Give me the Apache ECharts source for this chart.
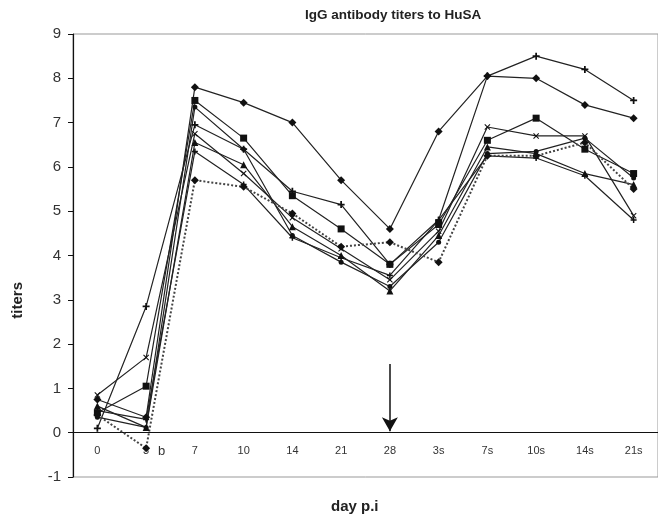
<!DOCTYPE html>
<html>
<head>
<meta charset="utf-8">
<script src="https://cdn.jsdelivr.net/npm/echarts@6/dist/echarts.min.js"></script>
<style>
  html, body { margin: 0; padding: 0; background: #fff; }
  #chart { width: 658px; height: 526px; }
</style>
</head>
<body>
<div id="chart"></div>
<script>
// days post immunisation (s = after second shot)
var days = ['0', '3', '7', '10', '14', '21', '28', '3s', '7s', '10s', '14s', '21s']
var yTicks = [-1, 0, 1, 2, 3, 4, 5, 6, 7, 8, 9]

var serA = [0.75, 0.35, 7.8, 7.45, 7.0, 5.7, 4.6, 6.8, 8.05, 8.0, 7.4, 7.1]
var serB = [0.1, 2.85, 6.95, 6.4, 5.45, 5.15, 3.8, 4.8, 8.05, 8.5, 8.2, 7.5]
var serC = [0.45, 1.05, 7.5, 6.65, 5.35, 4.6, 3.8, 4.7, 6.6, 7.1, 6.4, 5.85]
var serD = [0.85, 1.7, 6.75, 5.85, 4.85, 4.15, 3.45, 4.55, 6.9, 6.7, 6.7, 4.9]
var serE = [0.6, 0.12, 6.55, 6.05, 4.65, 4.0, 3.2, 4.45, 6.45, 6.3, 5.85, 5.6]
var serF = [0.35, 0.12, 7.35, 6.4, 4.45, 3.85, 3.3, 4.3, 6.3, 6.35, 6.65, 5.75]
var serG = [0.5, 0.3, 6.35, 5.6, 4.4, 3.95, 3.55, 4.8, 6.25, 6.2, 5.8, 4.8]
var serH = [0.4, -0.35, 5.7, 5.55, 4.95, 4.2, 4.3, 3.85, 6.25, 6.25, 6.55, 5.5]

var plusPath = 'path://M3,0H5V3H8V5H5V8H3V5H0V3H3Z'
var crossPath = 'path://M1,0L4,3L7,0L8,1L5,4L8,7L7,8L4,5L1,8L0,7L3,4L0,1Z'

function line (name, data, symbol, size, dotted) {
  return {
    name: name,
    type: 'line',
    data: data,
    symbol: symbol,
    symbolSize: size,
    showSymbol: true,
    animation: false,
    lineStyle: {
      color: dotted ? '#444' : '#222',
      width: dotted ? 2 : 1.2,
      type: dotted ? 'dotted' : 'solid'
    },
    itemStyle: { color: '#111' }
  }
}

var chart = echarts.init(document.getElementById('chart'))
chart.setOption({
  backgroundColor: '#fff',
  animation: false,
  title: {
    text: 'IgG antibody titers to HuSA',
    left: 300,
    top: 3,
    textStyle: { fontFamily: 'Liberation Sans', fontSize: 13.5, fontWeight: 'bold', color: '#222' }
  },
  grid: {
    left: 73,
    right: -9,
    top: 34,
    bottom: 49,
    show: true,
    borderColor: '#999',
    borderWidth: 1
  },
  xAxis: {
    type: 'category',
    data: days,
    boundaryGap: true,
    // x axis sits on the zero line, one unit above the bottom (-1)
    offset: -44.3,
    axisLine: { onZero: false, lineStyle: { color: '#111', width: 1.2 } },
    axisTick: { inside: true, length: 4, lineStyle: { color: '#111' } },
    axisLabel: { margin: 13, fontFamily: 'Liberation Sans', fontSize: 11, color: '#333' },
    splitLine: { show: false }
  },
  yAxis: {
    type: 'value',
    min: yTicks[0],
    max: yTicks[yTicks.length - 1],
    interval: 1,
    axisLine: { show: true, onZero: false, lineStyle: { color: '#111', width: 1.2 } },
    axisTick: { show: true, length: 5, lineStyle: { color: '#111' } },
    axisLabel: { margin: 12, fontFamily: 'Liberation Sans', fontSize: 15, color: '#333' },
    splitLine: { show: false }
  },
  graphic: [
    {
      type: 'text',
      left: 10,
      top: 282,
      rotation: Math.PI / 2,
      style: { text: 'titers', font: 'bold 15px "Liberation Sans"', fill: '#222' }
    },
    {
      type: 'text',
      left: 331,
      top: 499,
      style: { text: 'day p.i', font: 'bold 15px "Liberation Sans"', fill: '#222' }
    },
    {
      type: 'text',
      left: 158,
      top: 445,
      style: { text: 'b', font: '13px "Liberation Sans"', fill: '#333' }
    }
  ],
  series: [
    line('A', serA, 'diamond', 8),
    line('B', serB, plusPath, 7),
    line('C', serC, 'rect', 7),
    line('D', serD, crossPath, 6),
    line('E', serE, 'triangle', 7),
    line('F', serF, 'circle', 5),
    line('G', serG, plusPath, 6),
    Object.assign(line('H', serH, 'diamond', 8, true), {
      markLine: {
        silent: true,
        symbol: ['none', 'arrow'],
        symbolSize: [12, 14],
        label: { show: false },
        lineStyle: { color: '#111', width: 1.5, type: 'solid' },
        data: [[{ coord: ['28', 1.55] }, { coord: ['28', 0.03] }]]
      }
    })
  ]
})
</script>
</body>
</html>
